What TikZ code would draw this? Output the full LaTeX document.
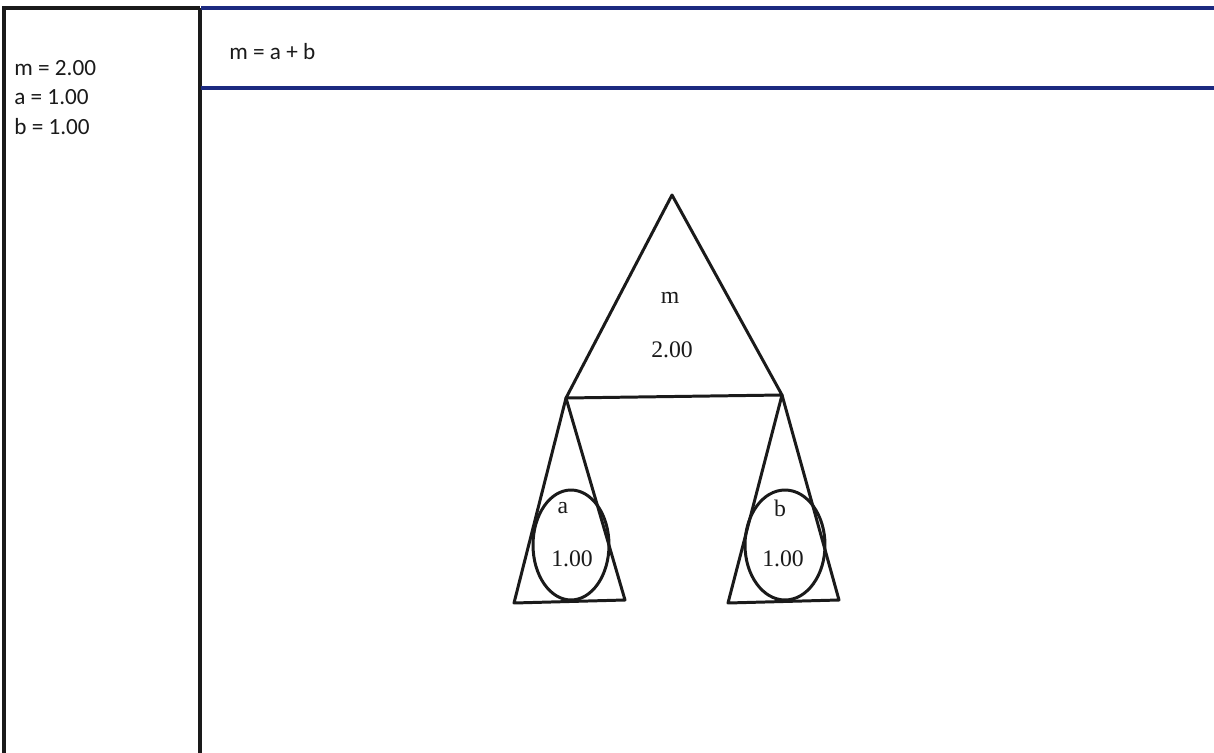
\documentclass[tikz,border=0pt]{standalone}
\usepackage{fontspec}
\setmainfont{Liberation Serif}
\newfontfamily\uifont{Carlito}
\usetikzlibrary{positioning,shapes.geometric}
\definecolor{ink}{HTML}{1A1A1A}
\definecolor{hdrblue}{HTML}{1C2A80}
\tikzset{
  panel/.style={draw=ink, line width=2.1pt},
  hdrline/.style={draw=hdrblue, line width=2pt},
  tri/.style={draw=ink, line width=1.7pt, line join=round},
  ball/.style={ellipse, draw=ink, line width=1.7pt, inner sep=0pt},
  vallab/.style={text=ink, font=\uifont\fontsize{13.2}{15}\selectfont, anchor=west, inner sep=0pt},
  treelab/.style={text=ink, font=\fontsize{13.5}{15}\selectfont, inner sep=0pt},
}

\begin{document}
\begin{tikzpicture}[x=0.02cm, y=-0.02cm]
  \useasboundingbox[fill=white] (0,0) rectangle (1214,753);

  % side panel with values
  \draw[panel] (4,753) -- (4,8) -- (200,8);
  \draw[panel] (200,8) -- (200,753);
  \node[vallab] (mval) at (14,68) {m = 2.00};
  \node[vallab] (aval) at (14,97) {a = 1.00};
  \node[vallab] (bval) at (14,127) {b = 1.00};

  % formula header
  \draw[hdrline] (201,8) -- (1214,8);
  \draw[hdrline] (201,88) -- (1214,88);
  \node[vallab] (formula) at (229,52) {m = a + b};

  % tree: m on top, a and b below
  \coordinate (top) at (672,195);
  \coordinate (ml) at (566,398);
  \coordinate (mr) at (782,395);
  \draw[tri] (top) -- (ml) -- (mr) -- cycle;
  \node[treelab] (mname) at (670,298) {m};
  \node[treelab] (mnum) at (672,350) {2.00};

  \draw[tri] (ml) -- (514,603) -- (625,600) -- cycle;
  \node[ball, minimum width=1.52cm, minimum height=2.2cm] (aball) at (571,545) {};
  \node[treelab] (aname) at (563,508) {a};
  \node[treelab] (anum) at (572,559) {1.00};

  \draw[tri] (mr) -- (728,603) -- (839,600) -- cycle;
  \node[ball, minimum width=1.6cm, minimum height=2.2cm] (bball) at (785,545) {};
  \node[treelab] (bname) at (780,508) {b};
  \node[treelab] (bnum) at (783,559) {1.00};
\end{tikzpicture}
\end{document}
